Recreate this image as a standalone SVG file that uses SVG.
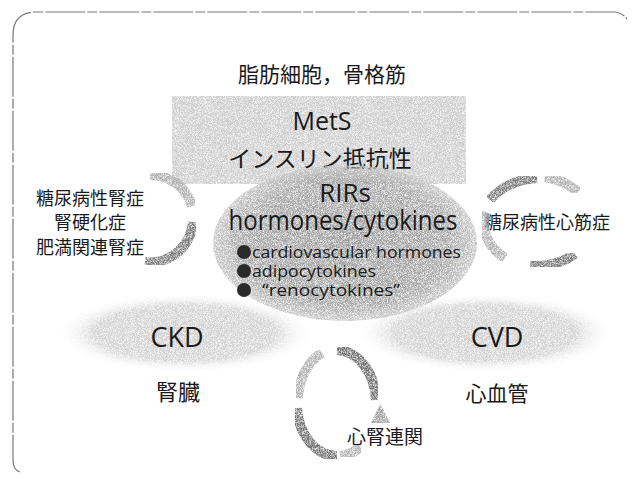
<svg xmlns="http://www.w3.org/2000/svg" width="632" height="479" viewBox="0 0 632 479">
<defs>
<style>
.t{font-family:"Noto Sans CJK JP","Noto Sans",sans-serif;fill:#1a1a1a;text-anchor:middle}
.e{font-family:"Open Sans","Noto Sans",sans-serif;fill:#1a1a1a;text-anchor:middle}
.b{font-family:"Open Sans","Noto Sans",sans-serif;fill:#1a1a1a;font-size:16px}
.arc{fill:none;stroke-width:10}
.spk{filter:url(#speck)}
</style>
<filter id="speck" x="-5%" y="-5%" width="110%" height="110%">
<feTurbulence type="fractalNoise" baseFrequency="1.6" numOctaves="1" seed="4" result="n"/>
<feColorMatrix in="n" type="matrix" values="0 0 0 0 0  0 0 0 0 0  0 0 0 0 0  2.4 0 0 0 -0.5" result="a"/>
<feComposite in="SourceGraphic" in2="a" operator="in"/>
</filter>
<radialGradient id="gEll" cx="0.5" cy="0.5" r="0.5">
<stop offset="0" stop-color="#9a9a9a"/>
<stop offset="0.8" stop-color="#a6a6a6"/>
<stop offset="1" stop-color="#c8c8c8"/>
</radialGradient>
<radialGradient id="gWing" cx="0.5" cy="0.5" r="0.5">
<stop offset="0" stop-color="#cdcdcd"/>
<stop offset="0.7" stop-color="#d4d4d4"/>
<stop offset="1" stop-color="#ffffff" stop-opacity="0"/>
</radialGradient>
</defs>
<path d="M20,472 Q13,470 13,460 L13,35 Q13,13 35,12 L615,12 Q623,13 627,19" fill="none" stroke="#777" stroke-width="1.2" stroke-dasharray="40 2 10 2"/>
<text class="t" x="322" y="82" font-size="21">脂肪細胞，骨格筋</text>
<g id="mets">
<rect class="spk" x="172" y="96" width="294" height="88" fill="#cccccc"/>
<text class="e" x="322" y="130" font-size="25">MetS</text>
<text class="t" x="320" y="167" font-size="23">インスリン抵抗性</text>
</g>
<g id="ckd">
<ellipse class="spk" cx="185" cy="333" rx="130" ry="40" fill="url(#gWing)"/>
<text class="e" x="177" y="347" font-size="27">CKD</text>
<text class="t" x="178" y="400" font-size="22">腎臓</text>
</g>
<g id="cvd">
<ellipse class="spk" cx="485" cy="333" rx="130" ry="40" fill="url(#gWing)"/>
<text class="e" x="497" y="347" font-size="27">CVD</text>
<text class="t" x="497" y="401" font-size="21">心血管</text>
</g>
<g id="rirs">
<ellipse class="spk" cx="345" cy="243" rx="132" ry="78" fill="url(#gEll)"/>
<text class="e" x="345" y="202" font-size="26">RIRs</text>
<text class="e" x="343" y="230" font-size="27" textLength="229" lengthAdjust="spacingAndGlyphs">hormones/cytokines</text>
<circle cx="244" cy="252" r="7" fill="#2a2a2a"/>
<text class="b" x="252" y="258" textLength="209" lengthAdjust="spacingAndGlyphs">cardiovascular hormones</text>
<circle cx="244" cy="271" r="7" fill="#2a2a2a"/>
<text class="b" x="252" y="277" textLength="124" lengthAdjust="spacingAndGlyphs">adipocytokines</text>
<circle cx="244" cy="290" r="7" fill="#2a2a2a"/>
<text class="b" x="262" y="296" textLength="138" lengthAdjust="spacingAndGlyphs">“renocytokines”</text>
</g>
<g id="left">
<text class="t" x="90" y="205" font-size="18">糖尿病性腎症</text>
<text class="t" x="90" y="229" font-size="18">腎硬化症</text>
<text class="t" x="90" y="254" font-size="18">肥満関連腎症</text>
</g>
<g id="right">
<text class="t" x="547" y="229" font-size="18">糖尿病性心筋症</text>
</g>
<g id="heartkidney">
<text class="t" x="385" y="444" font-size="19">心腎連関</text>
</g>
<g id="connectors">
<path class="arc spk" d="M150,175 A43,44 0 0 1 192,206" stroke="#b0b0b0"/>
<path class="arc spk" d="M193,222 A43,44 0 0 1 145,262" stroke="#7a7a7a"/>
<path class="arc spk" d="M490,200 A60,45 0 0 1 537,178" stroke="#7a7a7a"/>
<path class="arc spk" d="M545,177 A60,45 0 0 1 578,192" stroke="#b0b0b0"/>
<path class="arc spk" d="M486,212 A60,45 0 0 0 505,258" stroke="#b0b0b0"/>
<path class="arc spk" d="M530,266 A60,45 0 0 0 575,254" stroke="#7a7a7a"/>
<path class="arc spk" d="M337,350 A40,53 0 0 1 376,400" stroke="#707070"/>
<path class="spk" d="M371,423 L380,404 L390,423 Z" fill="#a0a0a0"/>
<path class="arc spk" d="M322,353 A40,53 0 0 0 298,398" stroke="#b0b0b0"/>
<path class="arc spk" d="M297,408 A40,53 0 0 0 337,456" stroke="#707070"/>
<path class="arc spk" d="M340,456 A40,53 0 0 0 360,447" stroke="#b0b0b0"/>
</g>
</svg>
